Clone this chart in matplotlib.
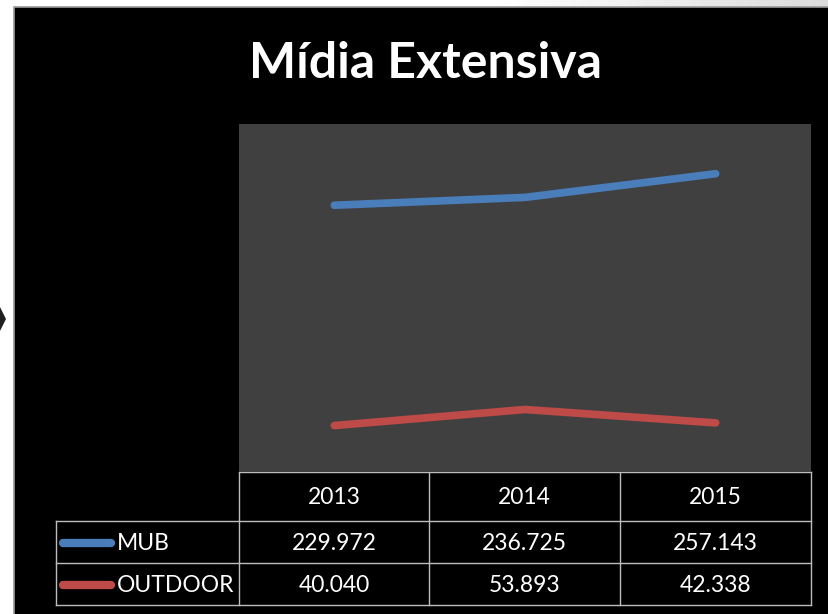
import numpy as np
import matplotlib.pyplot as plt
from matplotlib.patches import Rectangle, Polygon

plt.rcParams["font.family"] = ["Lato", "DejaVu Sans"]

years = ["2013", "2014", "2015"]
series_names = ["MUB", "OUTDOOR"]
mub = [229.972, 236.725, 257.143]
outdoor = [40.040, 53.893, 42.338]
series_values = [mub, outdoor]
series_colors = ["#4a7ebb", "#be4b48"]

W, H = 829, 614
fig = plt.figure(figsize=(W / 100, H / 100), dpi=100, facecolor="white")

# pixel-coordinate layer for the slide frame and the data table
bg = fig.add_axes([0, 0, 1, 1])
bg.set_xlim(0, W)
bg.set_ylim(H, 0)
bg.axis("off")

# light gradient strip along the top edge
grad = np.linspace(0, 1, 300)
grad = np.clip((grad - 0.6) / 0.4, 0, 1)
top = np.ones((2, 300, 3)) * (1 - 0.14 * grad)[None, :, None]
bg.imshow(top, extent=[0, W, 7, 0], aspect="auto", zorder=0)

# small arrow tip on the left margin
bg.add_patch(Polygon([[0, 307], [6, 319], [0, 331]], closed=True,
                     facecolor="#202020", edgecolor="none", zorder=1))

# black panel
bg.add_patch(Rectangle((14, 7), W - 14 + 5, H - 7 + 5, facecolor="black",
                       edgecolor="#9a9a9a", linewidth=1.2, zorder=1))

bg.text(426, 63, "Mídia Extensiva", color="white", fontsize=36,
        fontweight="bold", ha="center", va="center", zorder=3)

# data table under the plot
col_edges = [239, 429, 620, 811]
row_edges = [472, 521, 563, 605]
label_left = 56
grid_kw = dict(color="#bdbdbd", linewidth=1, zorder=3)
bg.plot([col_edges[0], col_edges[-1]], [row_edges[0]] * 2, **grid_kw)
for y in row_edges[1:]:
    bg.plot([label_left, col_edges[-1]], [y, y], **grid_kw)
for x in col_edges:
    bg.plot([x, x], [row_edges[0], row_edges[-1]], **grid_kw)
bg.plot([label_left] * 2, [row_edges[1], row_edges[-1]], **grid_kw)

text_kw = dict(color="white", fontsize=16.5, va="center", zorder=4)
hy = (row_edges[0] + row_edges[1]) / 2 + 1
for j, yr in enumerate(years):
    cx = (col_edges[j] + col_edges[j + 1]) / 2
    bg.text(cx, hy, yr, ha="center", **text_kw)

for i, (name, vals, color) in enumerate(zip(series_names, series_values,
                                              series_colors)):
    cy = (row_edges[i + 1] + row_edges[i + 2]) / 2 + 1
    bg.plot([63, 111], [cy, cy], color=color, linewidth=6,
            solid_capstyle="round", zorder=4)
    bg.text(117, cy, name, ha="left", **text_kw)
    for j, v in enumerate(vals):
        cx = (col_edges[j] + col_edges[j + 1]) / 2
        bg.text(cx, cy, f"{v:.3f}", ha="center", **text_kw)

# line plot
ax = fig.add_axes([239 / W, 1 - 472 / H, (811 - 239) / W, (472 - 124) / H])
ax.set_facecolor("#404040")
x = np.arange(len(years))
for vals, color in zip(series_values, series_colors):
    ax.plot(x, vals, color=color, linewidth=5.5, solid_capstyle="round",
            solid_joinstyle="round")
ax.set_xlim(-0.5, len(years) - 0.5)
ax.set_ylim(0, 300)
ax.set_xticks([])
ax.set_yticks([])
for s in ax.spines.values():
    s.set_visible(False)

fig.savefig("out.png", dpi=100, facecolor=fig.get_facecolor())
